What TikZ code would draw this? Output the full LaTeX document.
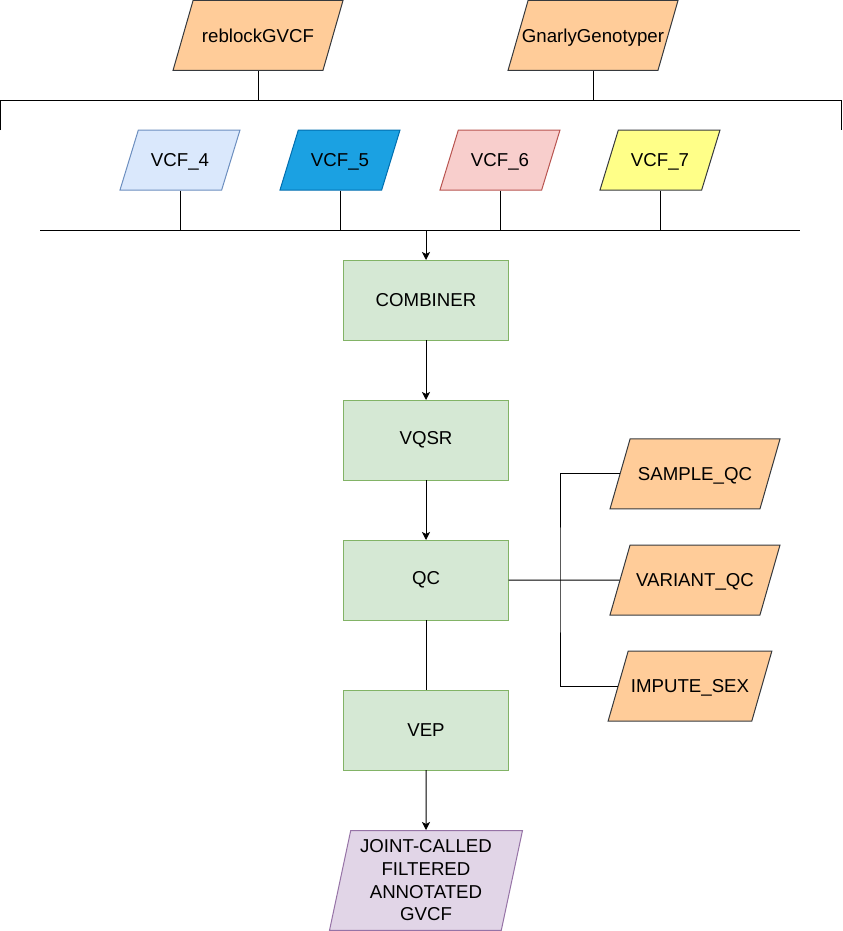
\documentclass[tikz,border=0pt]{standalone}
\usepackage{fontspec}
\setmainfont{Liberation Sans}
\usetikzlibrary{shapes.geometric, arrows.meta, positioning}

\definecolor{toolfill}{HTML}{FFCC99}
\definecolor{tooldraw}{HTML}{36393D}
\definecolor{vcfblue}{HTML}{DAE8FC}
\definecolor{vcfbluedraw}{HTML}{6C8EBF}
\definecolor{vcfdeep}{HTML}{1BA1E2}
\definecolor{vcfdeepdraw}{HTML}{006EAF}
\definecolor{vcfred}{HTML}{F8CECC}
\definecolor{vcfreddraw}{HTML}{B85450}
\definecolor{vcfyellow}{HTML}{FFFF88}
\definecolor{stepfill}{HTML}{D5E8D4}
\definecolor{stepdraw}{HTML}{82B366}
\definecolor{outfill}{HTML}{E1D5E7}
\definecolor{outdraw}{HTML}{9673A6}

\begin{document}
\begin{tikzpicture}[
    x=0.75pt, y=-0.75pt, line width=0.75pt,
    font=\fontsize{14}{17}\selectfont,
    para/.style={trapezium, trapezium left angle=74, trapezium right angle=106, trapezium stretches body, draw, align=center, inner xsep=2pt, text height=10pt, text depth=0pt},
    tool/.style={para, fill=toolfill, draw=tooldraw, minimum width=127.5pt, inner ysep=21.25pt},
    vcf/.style={para, trapezium left angle=73, trapezium right angle=107, minimum width=90pt, inner ysep=17.5pt},
    stepbox/.style={rectangle, draw=stepdraw, fill=stepfill, minimum width=123.75pt, minimum height=60pt, outer sep=0pt},
    output/.style={para, fill=outfill, draw=outdraw, trapezium left angle=78, trapezium right angle=102, minimum width=144.75pt, text height=, text depth=, inner ysep=7pt},
    flow/.style={-{Stealth[length=6pt, width=6pt, inset=1.5pt]}}
]
\useasboundingbox (0,0) rectangle (842,931);

% Tools
\node[tool] (reblock) at (258,35.5) {reblockGVCF};
\node[tool, inner xsep=-5pt] (gnarly) at (593,35.5) {GnarlyGenotyper};

% Sample VCFs
\node[vcf, fill=vcfblue, draw=vcfbluedraw] (vcf4) at (180,160) {VCF\_4};
\node[vcf, fill=vcfdeep, draw=vcfdeepdraw] (vcf5) at (340,160) {VCF\_5};
\node[vcf, fill=vcfred, draw=vcfreddraw] (vcf6) at (500,160) {VCF\_6};
\node[vcf, fill=vcfyellow, draw=tooldraw] (vcf7) at (660,160) {VCF\_7};

% Bus lines
\coordinate (toolL) at (0.5,100);
\coordinate (toolR) at (841,100);
\coordinate (toolLend) at (0.5,130);
\coordinate (toolRend) at (841,130);
\coordinate (mergeL) at (40,230);
\coordinate (mergeR) at (800,230);

% Pipeline steps
\node[stepbox] (combiner) at (426,300) {COMBINER};
\node[stepbox, below=45pt of combiner] (vqsr) {VQSR};
\node[stepbox, below=45pt of vqsr] (qc) {QC};
\node[stepbox, below=52.5pt of qc] (vep) {VEP};
\node[output, below=45pt of vep] (joint) {JOINT-CALLED\\FILTERED\\ANNOTATED\\GVCF};

% QC outputs
\node[tool] (variant) at (695,580) {VARIANT\_QC};
\node[tool, above=26.25pt of variant] (sample) {SAMPLE\_QC};
\node[tool, below=26.25pt of variant, xshift=-3.75pt, minimum width=120pt] (impute) {IMPUTE\_SEX};
\coordinate (qcbranch) at (560,580);

% Connectors
\draw (toolLend) -- (toolL) -- (toolR) -- (toolRend);
\draw (reblock.south) -- (reblock.south |- toolL);
\draw (gnarly.south) -- (gnarly.south |- toolL);
\draw (mergeL) -- (mergeR);
\foreach \n in {4,...,7}
    \draw (vcf\n.south) -- (vcf\n.south |- mergeL);

\draw[flow] (combiner.north |- mergeL) -- (combiner.north);
\draw[flow] (combiner) -- (vqsr);
\draw[flow] (vqsr) -- (qc);
\draw (qc) -- (vep);
\draw[flow] (vep) -- (joint);

\draw (qc.east) -- (variant.west);
\draw (sample.west) -| (qcbranch) |- (impute.west);

\end{tikzpicture}
\end{document}
